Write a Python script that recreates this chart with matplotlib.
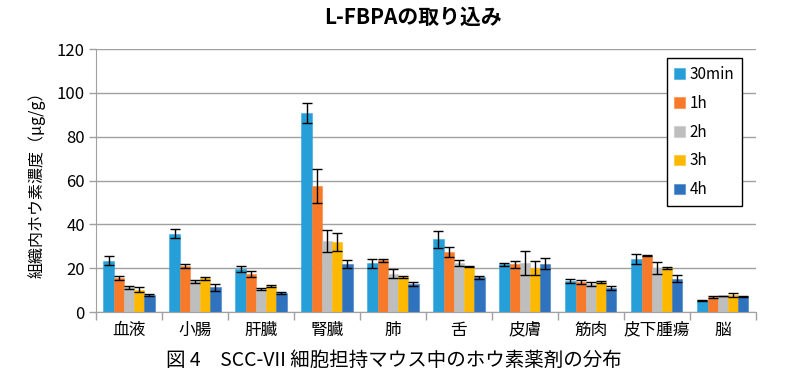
import numpy as np
import matplotlib
matplotlib.use('Agg')
import matplotlib.pyplot as plt

plt.rcParams['font.family'] = ['Noto Sans CJK JP', 'DejaVu Sans']

# 臓器と時間
organs = ['血液', '小腸', '肝臓', '腎臓', '肺', '舌', '皮膚', '筋肉', '皮下腫瘍', '脳']
times = ['30min', '1h', '2h', '3h', '4h']
colors = ['#269FD8', '#F7792A', '#BEBEBE', '#FDB900', '#2F72BD']

# ホウ素濃度 (μg/g)
v_30min = [23.4, 35.8, 19.6, 91.0, 22.2, 33.3, 21.7, 14.0, 24.2, 5.3]
v_1h = [15.7, 21.0, 17.2, 57.5, 23.6, 27.4, 21.7, 13.5, 25.7, 6.8]
v_2h = [11.4, 14.0, 10.5, 32.3, 17.5, 22.4, 22.3, 12.9, 20.1, 7.3]
v_3h = [10.2, 15.4, 11.9, 31.9, 16.1, 20.7, 20.3, 13.8, 20.2, 7.6]
v_4h = [7.6, 11.3, 8.8, 21.9, 12.8, 15.8, 22.1, 10.9, 15.3, 7.0]

# 標準誤差
e_30min = [2.0, 2.0, 1.4, 4.6, 2.0, 3.9, 0.5, 0.9, 2.2, 0.2]
e_1h = [0.9, 0.8, 1.4, 7.8, 0.7, 2.1, 1.8, 0.9, 0.2, 0.5]
e_2h = [0.7, 0.8, 0.5, 5.0, 2.1, 1.5, 5.5, 0.8, 2.6, 0.2]
e_3h = [1.2, 0.7, 0.5, 4.1, 0.5, 0.2, 3.2, 0.5, 0.45, 0.9]
e_4h = [0.5, 1.6, 0.45, 1.8, 1.1, 0.5, 2.5, 0.8, 1.8, 0.3]

values = [v_30min, v_1h, v_2h, v_3h, v_4h]
errors = [e_30min, e_1h, e_2h, e_3h, e_4h]

fig = plt.figure(figsize=(7.89, 3.81), dpi=100)
ax = fig.add_axes([0.1217, 0.181, 0.8363, 0.690])

x = np.arange(len(organs))
w = 0.155
for i, (t, v, e, c) in enumerate(zip(times, values, errors, colors)):
    pos = x + (i - 2) * w
    ax.bar(pos, v, width=w, color=c, label=t, zorder=2,
           edgecolor=matplotlib.colors.to_rgba(c, 0.45), linewidth=0.8)
    ax.errorbar(pos, v, yerr=e, fmt='none', ecolor='black', elinewidth=1,
                capsize=3.5, capthick=1, zorder=3)

ax.set_xlim(-0.5, len(organs) - 0.5)
ax.set_ylim(0, 120)
ax.set_yticks(range(0, 121, 20))
ax.set_xticks(x)
ax.set_xticklabels(organs, fontsize=12)
ax.set_xticks(np.arange(-0.5, len(organs)), minor=True)
ax.tick_params(axis='x', which='major', length=0, pad=7)
ax.tick_params(axis='x', which='minor', length=6, color='#A0A0A0', width=1)
ax.tick_params(axis='y', length=5, color='#A0A0A0', width=1, labelsize=12, pad=3)
ax.yaxis.grid(True, color='#A0A0A0', linewidth=1, zorder=0)
ax.set_axisbelow(True)
for s in ['top', 'right']:
    ax.spines[s].set_visible(False)
ax.spines['left'].set_color('#A0A0A0')
ax.spines['bottom'].set_color('#A0A0A0')

ax.set_ylabel('組織内ホウ素濃度（μg/g）', fontsize=11.5, labelpad=8)

leg = ax.legend(loc='upper right', bbox_to_anchor=(0.979, 0.966), fontsize=11,
                frameon=True, fancybox=False, edgecolor='black', framealpha=1,
                handlelength=0.7, handleheight=0.7, handletextpad=0.3,
                labelspacing=0.78, borderpad=0.5, borderaxespad=0)
leg.get_frame().set_linewidth(1)

fig.text(0.524, 0.955, 'L-FBPAの取り込み', fontsize=15, fontweight='bold',
         ha='center', va='center')
fig.text(0.4994, 0.055, '図 4　SCC-VII 細胞担持マウス中のホウ素薬剤の分布',
         fontsize=14, ha='center', va='center')

fig.savefig('out.png', dpi=100)
